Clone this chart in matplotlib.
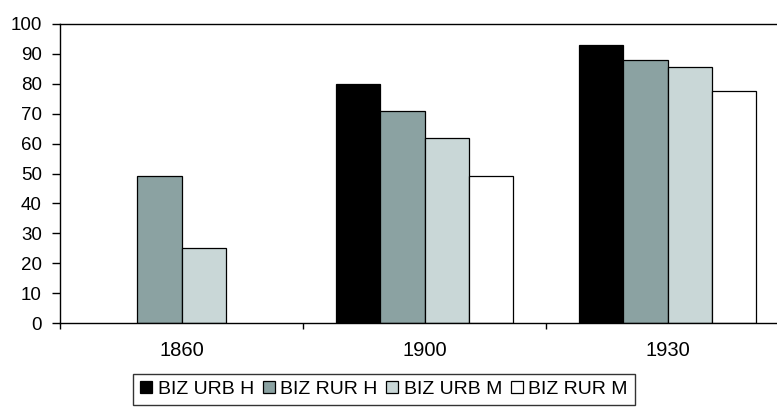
import numpy as np
import matplotlib.pyplot as plt

plt.rcParams['font.family'] = ['Liberation Sans', 'DejaVu Sans']

# Data
years = ['1860', '1900', '1930']
series = ['BIZ URB H', 'BIZ RUR H', 'BIZ URB M', 'BIZ RUR M']
biz_urb_h = [np.nan, 80, 93]
biz_rur_h = [49, 71, 88]
biz_urb_m = [25, 62, 85.5]
biz_rur_m = [np.nan, 49, 77.7]
colors = ['#000000', '#8ba2a2', '#c9d7d7', '#ffffff']

fig = plt.figure(figsize=(7.77, 4.07), dpi=100)
# axes extends past the right edge, like the cropped original
ax = fig.add_axes([60 / 777, 1 - 323 / 407, 729 / 777, 299 / 407])

x = np.arange(len(years))
width = 0.182
values = [biz_urb_h, biz_rur_h, biz_urb_m, biz_rur_m]
for i, (name, vals) in enumerate(zip(series, values)):
    ax.bar(x + (i - 1.5) * width, vals, width, color=colors[i],
           edgecolor='black', linewidth=0.9, label=name)

ax.set_xlim(-0.5, 2.5)
ax.set_ylim(0, 100)
ax.set_yticks(range(0, 101, 10))
ax.tick_params(axis='y', direction='out', length=6, width=1, labelsize=13.5, pad=7)

# category boundaries as ticks, labels in the middle
ax.set_xticks([-0.5, 0.5, 1.5, 2.5])
ax.set_xticklabels([])
ax.set_xticks(x, minor=True)
ax.set_xticklabels(years, minor=True)
ax.tick_params(axis='x', which='major', direction='out', length=4, width=1)
ax.tick_params(axis='x', which='minor', length=0, labelsize=14.5, pad=13)

ax.spines['right'].set_visible(False)
for s in ['left', 'top', 'bottom']:
    ax.spines[s].set_linewidth(1)

leg = fig.legend(loc='upper center', bbox_to_anchor=(384 / 777, 1 - 374 / 407),
                 ncol=4, fontsize=14, frameon=True, fancybox=False,
                 edgecolor='black', handlelength=0.62, handleheight=0.62,
                 handletextpad=0.28, columnspacing=0.45, borderpad=0.35,
                 borderaxespad=0)
leg.get_frame().set_linewidth(1)

fig.savefig('out.png', dpi=100)
